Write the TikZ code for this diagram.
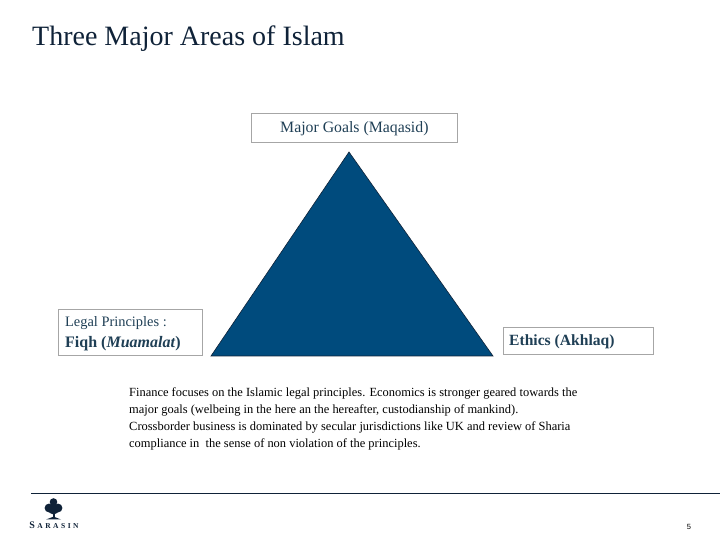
\documentclass[tikz,border=0pt]{standalone}
\usepackage{fontspec}
\setmainfont{Liberation Serif}
\newfontfamily\pagefont{Liberation Sans}
\definecolor{sarablue}{HTML}{004B7D}
\definecolor{saraink}{HTML}{1F3F55}
\definecolor{saradark}{HTML}{0F2238}
\definecolor{boxgrey}{HTML}{A6A6A6}
\tikzset{
  labelbox/.style={draw=boxgrey, line width=0.8pt, fill=white, text=saraink, minimum height=#1, inner sep=0pt},
  boxtext/.style={anchor=base west, inner sep=0pt, text=saraink},
  bodyline/.style={anchor=base west, inner sep=0pt, text=black, font=\fontsize{12.45}{14}\selectfont}
}
\begin{document}
\begin{tikzpicture}[x=1pt,y=1pt]
\useasboundingbox (0,0) rectangle (720,540);

\node [anchor=base west, inner sep=0pt, text=saradark, font=\fontsize{28}{32}\selectfont] (title) at (32,494) {Three Major Areas of Islam};

% triangle
\coordinate (apex) at (349,388);
\coordinate (left) at (211,184);
\coordinate (right) at (493,184);
\draw [saradark, fill=sarablue, line width=0.6pt] (apex) -- (left) -- (right) -- cycle;

\node [labelbox=29pt, minimum width=206pt] (goals) at (354,412.5) {};
\node [boxtext, font=\fontsize{15.8}{18}\selectfont] (goalstext) at (280,407) {Major Goals (Maqasid)};

\node [labelbox=46pt, minimum width=144pt] (legal) at (130,208) {};
\node [boxtext, font=\fontsize{14.4}{16}\selectfont] (legaltop) at (65,213) {Legal Principles :};
\node [boxtext, font=\fontsize{16}{18}\selectfont\bfseries] (legalbot) at (65,192.5) {Fiqh (\textit{Muamalat})};

\node [labelbox=27pt, minimum width=150pt] (ethics) at (578,199.5) {};
\node [boxtext, font=\fontsize{15.6}{18}\selectfont\bfseries] (ethicstext) at (509,194) {Ethics (Akhlaq)};

\node [bodyline] (line1) at (129,143) {Finance focuses on the Islamic legal principles. Economics is stronger geared towards the};
\node [bodyline] (line2) at (129,126) {major goals (welbeing in the here an the hereafter, custodianship of mankind).};
\node [bodyline] (line3) at (129,109) {Crossborder business is dominated by secular jurisdictions like UK and review of Sharia};
\node [bodyline] (line4) at (129,92) {compliance in\ \ the sense of non violation of the principles.};

% footer rule
\coordinate (rulestart) at (31,46.7);
\coordinate (ruleend) at (720,46.7);
\draw [saradark, line width=1pt] (rulestart) -- (ruleend);

% logo tree
\fill [saradark] (53.5,38) circle [radius=3.8];
\fill [saradark] (49,32) circle [radius=4.4];
\fill [saradark] (58,32) circle [radius=4.4];
\fill [saradark] (53.5,31) circle [radius=5.5];
\fill [saradark] (52.6,29) rectangle (54.6,22);
\fill [saradark] (46,20.5) -- (61,20.5) -- (54.6,23) -- (52.6,23) -- cycle;

\node [anchor=base, inner sep=0pt, text=saradark, font=\fontsize{7.5}{8}\selectfont\bfseries] (logo) at (54,11) {{\fontsize{10}{10}\selectfont S}\,\,A\,\,R\,\,A\,\,S\,\,I\,\,N};

\node [anchor=base, inner sep=0pt, text=black, font=\pagefont\fontsize{7.5}{8}\selectfont] (page) at (689,10.5) {5};
\end{tikzpicture}
\end{document}
